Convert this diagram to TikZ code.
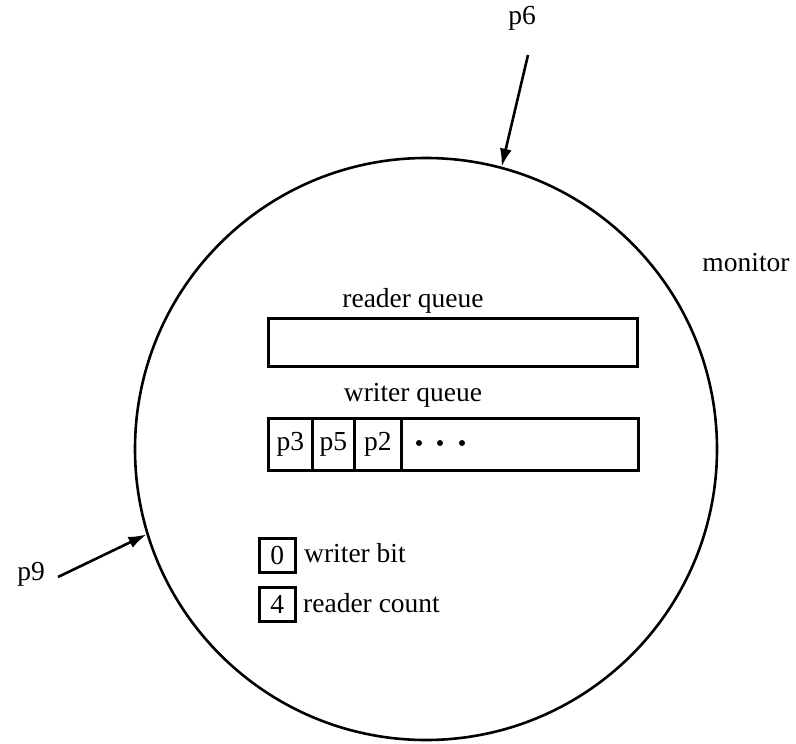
\documentclass[tikz,border=0pt]{standalone}
\usepackage{fontspec}
\setmainfont{Liberation Serif}
\usetikzlibrary{arrows.meta}
\begin{document}
\begin{tikzpicture}[x=1pt,y=-1pt,
  every node/.style={font=\fontsize{27.5}{32}\selectfont, inner sep=0pt},
  box/.style={draw, line width=2.6pt, rectangle, anchor=north west},
  lbl/.style={anchor=base},
  entry/.style={-{Latex[length=18pt,width=12pt]}, line width=2.6pt}]
\useasboundingbox (0,0) rectangle (796,744);

% the monitor
\node[draw, circle, line width=2.6pt, minimum size=582pt] (mon) at (426,449) {};
\node (montxt) at (746,263) {monitor};

% reader queue
\node[lbl] (rqlbl) at (413,307) {reader queue};
\node[box, minimum width=369pt, minimum height=48pt] (rq) at (267,317) {};

% writer queue with waiting writers
\node[lbl] (wqlbl) at (413,401) {writer queue};
\node[box, minimum width=370pt, minimum height=52pt] (wq) at (267,417) {};
\node[box, minimum width=44pt, minimum height=52pt] (c3) at (267,417) {};
\node[box, minimum width=42pt, minimum height=52pt] (c5) at (311,417) {};
\node[box, minimum width=47pt, minimum height=52pt] (c2) at (353,417) {};
\node (t3) at (c3.center) {p3};
\node (t5) at (c5.center) {p5};
\node (t2) at (c2.center) {p2};
\foreach \x in {419,440,462}
  \fill (\x,443) circle (3pt);

% flags
\node[box, minimum width=36pt, minimum height=34pt] (wb) at (258,537) {};
\node at (wb.center) (wbv) {0};
\node[anchor=base west] (wbl) at (304,562) {writer bit};
\node[box, minimum width=36pt, minimum height=34pt] (rc) at (258,586) {};
\node at (rc.center) (rcv) {4};
\node[anchor=base west] (rcl) at (303,612) {reader count};

% processes arriving at the monitor
\node (p6) at (522,18) {p6};
\coordinate (p6s) at (528,55);
\draw[entry] (p6s) -- (mon.75.9);
\node (p9) at (31,574) {p9};
\coordinate (p9s) at (58,577);
\draw[entry] (p9s) -- (mon.197.4);
\end{tikzpicture}
\end{document}
